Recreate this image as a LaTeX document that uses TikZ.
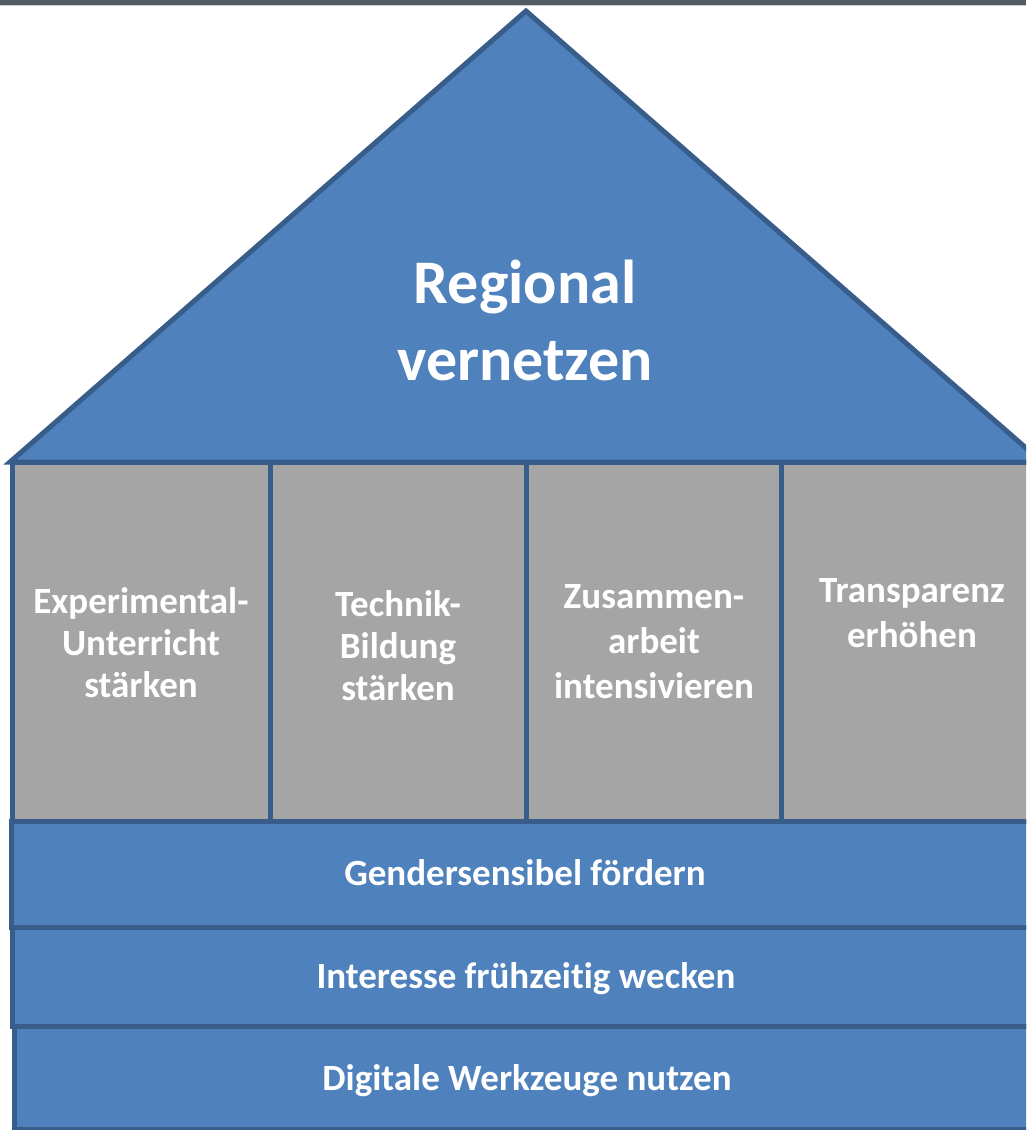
\documentclass[tikz,border=0pt]{standalone}
\usepackage{fontspec}
\setmainfont{Carlito}[Ligatures=NoCommon]
\usepackage{tikz}
\usetikzlibrary{positioning}
\definecolor{roofblue}{HTML}{4F81BD}
\definecolor{lineblue}{HTML}{385D8A}
\definecolor{pillargray}{HTML}{A5A5A5}
\definecolor{slate}{HTML}{505B66}
\tikzstyle{part}=[fill=roofblue,draw=lineblue,line width=5pt]
\tikzstyle{pillar}=[part,fill=pillargray]
\tikzstyle{lbl}=[text=white,font=\bfseries\fontsize{37}{42}\selectfont,align=center,inner sep=0]
\tikzstyle{wide lbl}=[lbl,font=\bfseries\fontsize{37}{45}\selectfont]
\tikzstyle{title}=[lbl,font=\bfseries\fontsize{62}{77}\selectfont]

\begin{document}
\begin{tikzpicture}[x=1pt,y=-1pt]
\useasboundingbox (0,0) rectangle (1026,1130);
\clip (0,0) rectangle (1026,1130);
\fill[slate] (0,0) rectangle (1026,4.5);
\draw[slate!30,line width=1pt] (0,5) -- (1026,5);
\draw[part,line join=miter] (10,462) -- (526,11) -- (1042,462) -- cycle;
\draw[pillar] (12.5,462) rectangle (270,821);
\draw[pillar] (270,462) rectangle (526,821);
\draw[pillar] (526,462) rectangle (781,821);
\draw[pillar] (781,462) rectangle (1042,821);
\draw[part] (11.5,821) rectangle (1042,927);
\draw[part] (12.5,927) rectangle (1042,1026);
\draw[part] (14,1026) rectangle (1042,1129);
\node[title] (roof) at (525,320) {Regional\\vernetzen};
\node[lbl] (exp) at (141,643) {Experimental-\\Unterricht\\stärken};
\node[lbl] (tech) at (398,646) {Technik-\\Bildung\\stärken};
\node[wide lbl] (coop) at (654,642) {Zusammen-\\arbeit\\intensivieren};
\node[wide lbl] (transp) at (912,613) {Transparenz\\erhöhen};
\node[lbl,anchor=base] (gender) at (525,885) {Gendersensibel fördern};
\node[lbl,anchor=base] (interest) at (526,988) {Interesse frühzeitig wecken};
\node[lbl,anchor=base] (digital) at (527,1090) {Digitale Werkzeuge nutzen};
\end{tikzpicture}
\end{document}
